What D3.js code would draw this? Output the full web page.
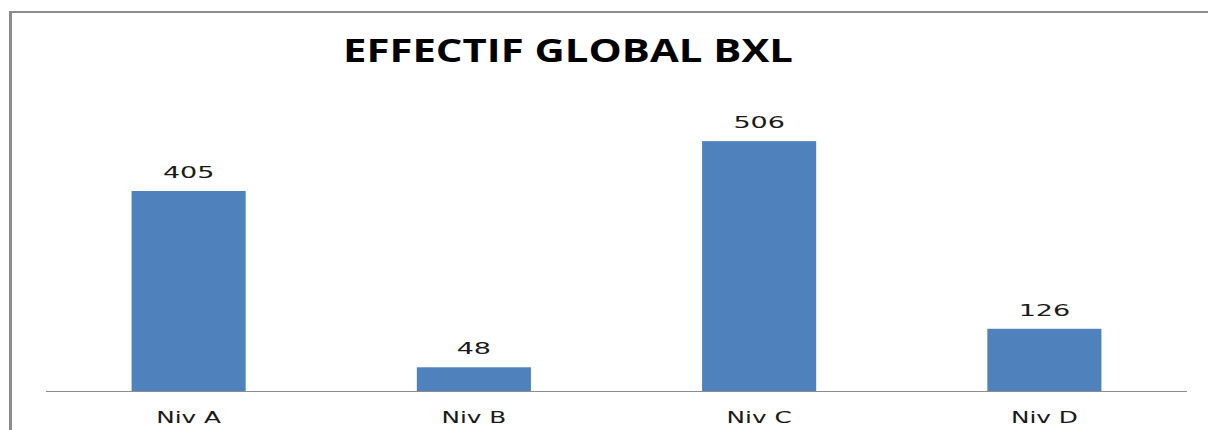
<!DOCTYPE html>
<html>
<head>
<meta charset="utf-8">
<script src="https://cdn.jsdelivr.net/npm/d3@7"></script>
<style>
  html, body { margin: 0; padding: 0; background: #fff; }
  svg { display: block; }
</style>
</head>
<body>
<svg id="chart" width="1209" height="430"></svg>
<script>
// Data
const categories = ["Niv A", "Niv B", "Niv C", "Niv D"];
const values = [405, 48, 506, 126];
const title = "EFFECTIF GLOBAL BXL";

const svg = d3.select("#chart");
const W = 1209, H = 430;

// Chart frame (left and top edges visible)
svg.append("line").attr("x1", 10.5).attr("x2", 10.5).attr("y1", 11).attr("y2", H)
  .attr("stroke", "#8c8c8c").attr("stroke-width", 3);
svg.append("line").attr("x1", 9).attr("x2", 1208).attr("y1", 12).attr("y2", 12)
  .attr("stroke", "#8c8c8c").attr("stroke-width", 2);

// Plot area
const left = 46, right = 1187, baseline = 391;
const x = d3.scaleBand().domain(categories).range([left, right])
  .paddingInner(0.6).paddingOuter(0.3);
const y = d3.scaleLinear().domain([0, 600]).range([baseline, baseline - 0.4938 * 600]);

// Stretch text horizontally about its anchor
function stretch(sel, sx) {
  sel.each(function () {
    const t = d3.select(this);
    const tx = +t.attr("data-x"), ty = +t.attr("data-y");
    t.attr("transform", `translate(${tx},${ty}) scale(${sx},1)`);
  });
}

// Bars
svg.append("g").selectAll("rect").data(values).join("rect")
  .attr("x", (d, i) => x(categories[i]))
  .attr("width", x.bandwidth())
  .attr("y", d => y(d))
  .attr("height", d => y(0) - y(d))
  .attr("fill", "#4f81bd");

// Category axis
const axis = svg.append("g").attr("transform", `translate(0,${baseline})`)
  .call(d3.axisBottom(x).tickSize(0).tickPadding(0));
axis.select(".domain").attr("stroke", "#8c8c8c").attr("d", `M${left},0.5H${right}`);
axis.selectAll(".tick text").remove();

// Category labels
svg.append("g").selectAll("text").data(categories).join("text")
  .attr("data-x", d => x(d) + x.bandwidth() / 2)
  .attr("data-y", 423)
  .attr("text-anchor", "middle")
  .attr("font-family", "'DejaVu Sans', sans-serif")
  .attr("font-size", 15)
  .attr("fill", "#1a1a1a")
  .text(d => d)
  .call(stretch, 1.65);

// Value labels
svg.append("g").selectAll("text").data(values).join("text")
  .attr("data-x", (d, i) => x(categories[i]) + x.bandwidth() / 2)
  .attr("data-y", d => y(d) - 13)
  .attr("text-anchor", "middle")
  .attr("font-family", "'DejaVu Sans', sans-serif")
  .attr("font-size", 15)
  .attr("fill", "#1a1a1a")
  .text(d => d)
  .call(stretch, 1.8);

// Title, stretched to its full width
const tt = svg.append("text")
  .attr("text-anchor", "middle")
  .attr("font-family", "'Open Sans', sans-serif")
  .attr("font-weight", "bold")
  .attr("font-size", 33)
  .attr("fill", "#000")
  .text(title);
const tw = tt.node().getComputedTextLength();
tt.attr("transform", `translate(568,62) scale(${450 / tw},1)`);
</script>
</body>
</html>
